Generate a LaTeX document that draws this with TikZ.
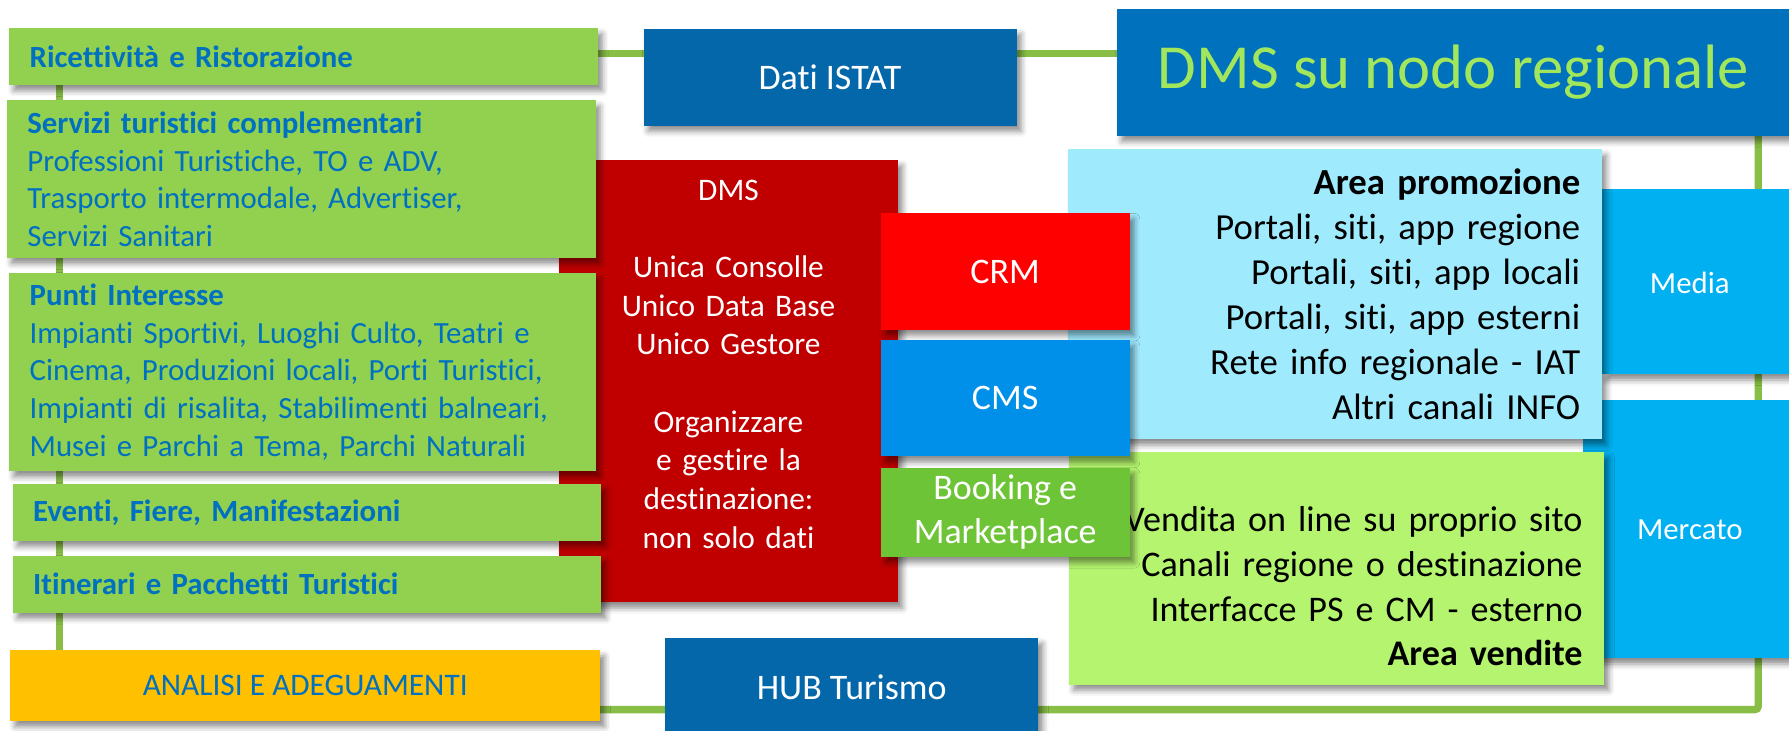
\documentclass[tikz,border=0pt]{standalone}
\usepackage{fontspec}
\setmainfont{Carlito}[Ligatures=NoCommon]
\usetikzlibrary{shadows.blur}
\definecolor{leafgreen}{HTML}{92D050}
\definecolor{txtblue}{HTML}{0070C0}
\definecolor{amber}{HTML}{FFC000}
\definecolor{deepblue}{HTML}{0467A9}
\definecolor{nodeblue}{HTML}{0071BC}
\definecolor{titlegreen}{HTML}{A2E65C}
\definecolor{darkred}{HTML}{C00000}
\definecolor{brightred}{HTML}{FF0000}
\definecolor{cmsblue}{HTML}{0090EA}
\definecolor{bookgreen}{HTML}{6EC437}
\definecolor{paleblue}{HTML}{A0EAFE}
\definecolor{palegreen}{HTML}{B4F46E}
\definecolor{skyblue}{HTML}{00B0F0}
\definecolor{linkgreen}{HTML}{88BE46}
\newcommand\fsz[2]{\fontsize{#1}{#2}\selectfont}
\pgfdeclarelayer{bg}
\pgfsetlayers{bg,main}
\begin{document}
\begin{tikzpicture}[x=1pt,y=1pt,
  box/.style={rectangle, inner sep=0pt, outer sep=0pt, anchor=north west,
    blur shadow={shadow xshift=4pt, shadow yshift=-5pt, shadow blur radius=5pt, shadow opacity=45}},
  leftbox/.style={box, fill=leafgreen, text=txtblue, align=left, inner xsep=18pt, font=\fsz{27}{33}},
  bluebox/.style={box, fill=deepblue, text=white, align=center, font=\fsz{31.5}{38.5}},
  toolbox/.style={box, text=white, align=center, minimum width=218, font=\fsz{31.5}{38.5}},
  sidebox/.style={box, fill=skyblue},
  sidetext/.style={text=white, font=\fsz{27}{33}, inner sep=0pt},
  arealist/.style={box, text=black, align=right, inner xsep=19pt, font=\fsz{32.2}{39.4}},
  link/.style={draw=linkgreen, line width=6.5pt}
]
\useasboundingbox (0,0) rectangle (1568,-640);

% DMS central box (behind the others)
\node[box, fill=darkred, text=white, align=center, minimum width=297, minimum height=388,
      text width=297, font=\fsz{27.5}{33.9}] (dms) at (490,-140)
  {\rule{0pt}{22pt}DMS\\ \mbox{}\\ Unica Consolle\\ Unico Data Base\\ Unico Gestore\\ \mbox{}\\ Organizzare\\ e gestire la\\ destinazione:\\ non solo dati\\ \mbox{}};

% left column
\node[leftbox, minimum width=516, minimum height=50, text width=480] (ric) at (8,-24.5)
  {\textbf{Ricettività e Ristorazione}};
\node[leftbox, minimum width=516, minimum height=138, text width=480] (serv) at (6,-88)
  {\textbf{Servizi turistici complementari}\\Professioni Turistiche, TO e ADV,\\Trasporto intermodale, Advertiser,\\Servizi Sanitari};
\node[leftbox, minimum width=514, minimum height=174, text width=478] (punti) at (8,-239)
  {\textbf{Punti Interesse}\\Impianti Sportivi, Luoghi Culto, Teatri e\\Cinema, Produzioni locali, Porti Turistici,\\Impianti di risalita, Stabilimenti balneari,\\Musei e Parchi a Tema, Parchi Naturali};
\node[leftbox, minimum width=516, minimum height=50, text width=480] (eventi) at (11,-424)
  {\textbf{Eventi, Fiere, Manifestazioni}};
\node[leftbox, minimum width=516, minimum height=50, text width=480] (itin) at (11,-487)
  {\textbf{Itinerari e Pacchetti Turistici}};

% top blue boxes
\node[bluebox, minimum width=327, minimum height=85] (dati) at (564,-25) {Dati ISTAT};
\node[box, fill=nodeblue, text=titlegreen, minimum width=590, minimum height=111,
      font=\fsz{55}{66}] (nodo) at (979,-8) {DMS su nodo regionale};

% right side boxes
\node[sidebox, minimum width=200, minimum height=226] (merc) at (1387,-351) {};
\node[sidebox, minimum width=180, minimum height=162] (media) at (1404,-166) {};
\node[sidetext] (mediat) at (1481,-248) {Media};
\node[sidetext] (merct) at (1481,-464.5) {Mercato};

\node[arealist, fill=paleblue, minimum width=468, minimum height=254, text width=430] (promo) at (936,-131)
  {\textbf{Area promozione}\\Portali, siti, app regione\\Portali, siti, app locali\\Portali, siti, app esterni\\Rete info regionale - IAT\\Altri canali INFO};
\node[arealist, fill=palegreen, minimum width=469, minimum height=204, text width=431,
      font=\fsz{31.6}{39.4}] (vend) at (937,-396)
  {\rule{0pt}{14pt}\\Vendita on line su proprio sito\\Canali regione o destinazione\\Interfacce PS e CM - esterno\\\textbf{Area vendite}};

% DMS tools
\node[toolbox, fill=brightred, minimum height=102] (crm) at (772,-187) {CRM};
\node[toolbox, fill=cmsblue, minimum height=102] (cms) at (772,-298) {CMS};
\node[toolbox, fill=bookgreen, minimum height=78, text depth=6pt] (book) at (772,-410) {Booking e\\Marketplace};

% bottom
\node[box, fill=amber, text=txtblue, minimum width=517, minimum height=62,
      font=\fsz{27.5}{33}] (analisi) at (9,-570) {ANALISI E ADEGUAMENTI};
\node[bluebox, minimum width=327, minimum height=86] (hub) at (583,-559) {HUB Turismo};

% connecting lines
\coordinate (corner) at (1541,-622);
\coordinate (leftx) at (52,0);
\begin{pgfonlayer}{bg}
  \draw[link] ([yshift=2.5pt]ric.east) -- ([yshift=2.5pt]ric.east -| nodo.west);
  \draw[link] (ric.south -| leftx) -- (analisi.north -| leftx);
  \draw[link, rounded corners=3pt] (analisi.east |- corner) -- (corner) -- (corner |- nodo.south);
\end{pgfonlayer}
\end{tikzpicture}
\end{document}
